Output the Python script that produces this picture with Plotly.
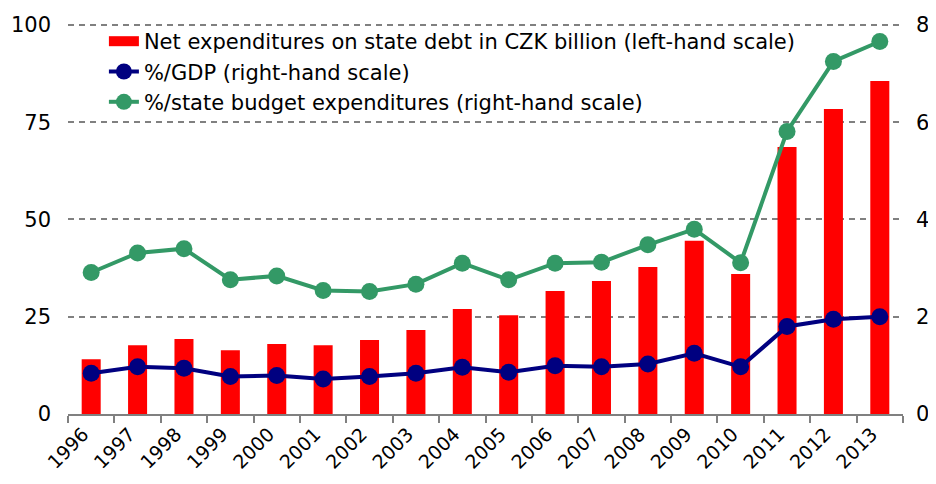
import plotly.graph_objects as go

years = [str(y) for y in range(1996, 2014)]
net_exp_czk_bn = [14.1, 17.7, 19.3, 16.4, 18.0, 17.7, 19.0, 21.6, 27.0, 25.4,
                  31.6, 34.2, 37.8, 44.5, 36.0, 68.6, 78.4, 85.6]
pct_gdp = [0.84, 0.97, 0.94, 0.77, 0.79, 0.72, 0.77, 0.84, 0.96, 0.86,
           0.99, 0.97, 1.03, 1.25, 0.97, 1.80, 1.95, 2.00]
pct_budget = [2.91, 3.31, 3.40, 2.76, 2.84, 2.54, 2.52, 2.67, 3.10, 2.76,
              3.10, 3.12, 3.48, 3.80, 3.11, 5.81, 7.25, 7.66]

bar_name = "Net expenditures on state debt in CZK billion (left-hand scale)"
FONT = "DejaVu Sans, Verdana, sans-serif"
FS = 21

fig = go.Figure()
fig.add_trace(go.Bar(
    x=years, y=net_exp_czk_bn,
    name=bar_name, showlegend=False,
    marker=dict(color="#FF0000", line=dict(width=0)),
    yaxis="y",
))
# legend entry for the bars drawn as a wide red band (legend only)
fig.add_trace(go.Scatter(
    x=[None], y=[None], name=bar_name, mode="lines",
    line=dict(color="#FF0000", width=15),
    yaxis="y",
))
fig.add_trace(go.Scatter(
    x=years, y=pct_gdp, name="%/GDP (right-hand scale)",
    mode="lines+markers",
    line=dict(color="#000080", width=4),
    marker=dict(color="#000080", size=17),
    yaxis="y2",
))
fig.add_trace(go.Scatter(
    x=years, y=pct_budget, name="%/state budget expenditures (right-hand scale)",
    mode="lines+markers",
    line=dict(color="#339966", width=4),
    marker=dict(color="#339966", size=17),
    yaxis="y2",
))

# page body has an 8px margin, so the figure is kept inside the window
fig.update_layout(
    width=920, height=468,
    margin=dict(l=60, r=25, t=15, b=62),
    paper_bgcolor="white", plot_bgcolor="white",
    font=dict(family=FONT, size=FS, color="#000000"),
    bargap=0.59,
    showlegend=True,
    legend=dict(x=0.043, y=1.005, xanchor="left", yanchor="top",
                bgcolor="rgba(0,0,0,0)", font=dict(size=FS),
                tracegroupgap=0, itemwidth=30),
    xaxis=dict(
        type="category",
        range=[-0.5, 17.5],
        tickangle=-45,
        automargin=False,
        showline=True, linecolor="#808080", linewidth=1.5,
        ticks="outside", ticklen=7, tickcolor="#808080", tickwidth=1.5,
        tickson="boundaries",
        showgrid=False,
        tickfont=dict(size=19),
        ticklabelshift=-8,
        ticklabelstandoff=0,
    ),
    yaxis=dict(
        range=[0, 100.5], tickvals=[0, 25, 50, 75, 100],
        automargin=False,
        showgrid=True, gridcolor="#808080", gridwidth=1.5, griddash="6px,5px",
        zeroline=False, showline=False,
        ticks="", ticklabelstandoff=16,
        tickfont=dict(size=FS),
    ),
    yaxis2=dict(
        range=[0, 8.04], tickvals=[0, 2, 4, 6, 8],
        automargin=False,
        overlaying="y", side="right",
        showgrid=False, zeroline=False, showline=False,
        ticks="", ticklabelstandoff=12,
        tickfont=dict(size=FS),
    ),
)

fig.write_html("out.html")
